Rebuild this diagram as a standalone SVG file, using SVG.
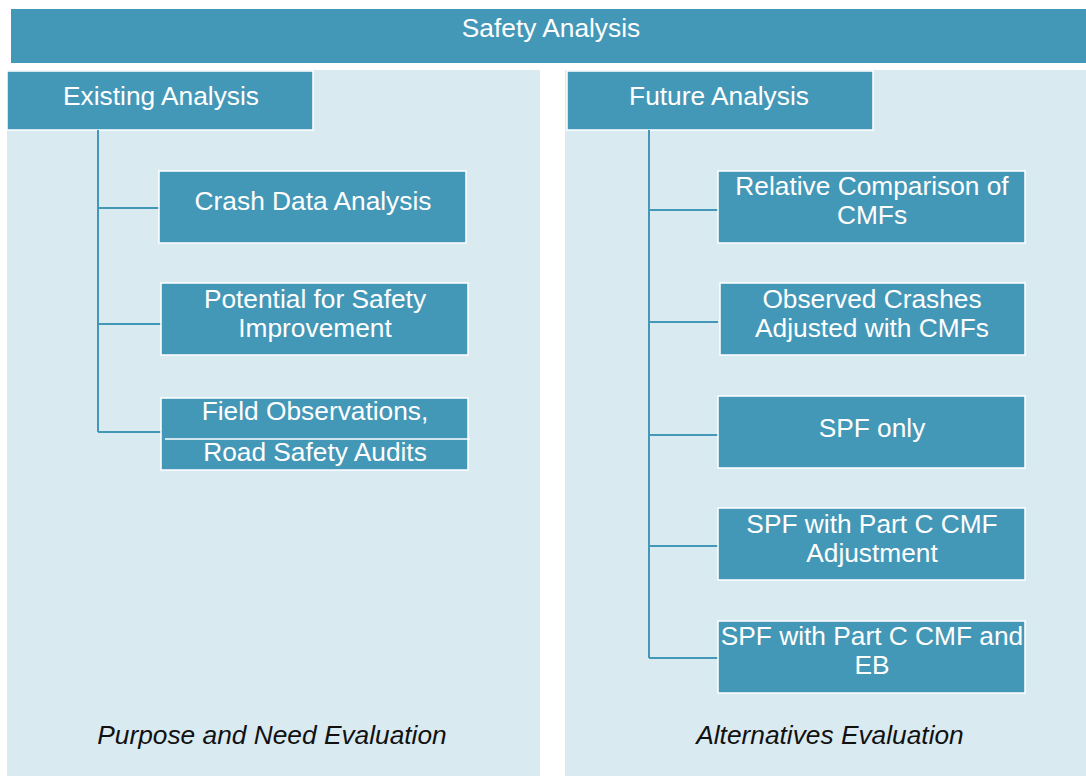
<svg xmlns="http://www.w3.org/2000/svg" width="1086" height="776" viewBox="0 0 1086 776">
<style>
.box{fill:#4498b7;stroke:#ffffff;stroke-width:1.5}
.head{fill:#4498b7}
.panel{fill:#d9eaf1}
.t{font-family:"Liberation Sans",Arial,sans-serif;font-size:26.3px;fill:#ffffff;text-anchor:middle}
.it{font-family:"Liberation Sans",Arial,sans-serif;font-size:26.3px;font-style:italic;fill:#111111;text-anchor:middle}
.c{stroke:#4498b7;stroke-width:2;fill:none}
</style>
<rect x="0" y="0" width="1086" height="776" fill="#ffffff"/>
<rect class="panel" x="7" y="70" width="533" height="706"/>
<rect class="panel" x="565" y="70" width="521" height="706"/>
<g id="safety-analysis">
<rect class="head" x="11" y="9" width="1075" height="54"/>
<text class="t" x="551" y="37">Safety Analysis</text>
</g>
<g id="existing-analysis">
<rect class="box" x="7" y="71" width="306" height="59"/>
<text class="t" x="161" y="105">Existing Analysis</text>
</g>
<g id="future-analysis">
<rect class="box" x="567" y="71" width="306" height="59"/>
<text class="t" x="719" y="105">Future Analysis</text>
</g>
<g id="connectors">
<path class="c" d="M98,130 V432 M98,208 H160 M98,324 H161 M98,432 H161"/>
<path class="c" d="M649,130 V658 M649,210 H718 M649,322 H718 M649,435 H718 M649,546 H718 M649,658 H718"/>
</g>
<g id="crash-data">
<rect class="box" x="159" y="171" width="307" height="72"/>
<text class="t" x="313" y="210">Crash Data Analysis</text>
</g>
<g id="potential">
<rect class="box" x="161" y="283" width="307" height="72"/>
<text class="t" x="315" y="308">Potential for Safety</text>
<text class="t" x="315" y="337">Improvement</text>
</g>
<g id="field-obs">
<rect class="box" x="161" y="398" width="307" height="72"/>
<line x1="165" y1="439" x2="470" y2="439" stroke="#ffffff" stroke-width="1.5"/>
<text class="t" x="315" y="420">Field Observations,</text>
<text class="t" x="315" y="461">Road Safety Audits</text>
</g>
<g id="relative-comparison">
<rect class="box" x="718" y="171" width="307" height="72"/>
<text class="t" x="872" y="195">Relative Comparison of</text>
<text class="t" x="872" y="224">CMFs</text>
</g>
<g id="observed-crashes">
<rect class="box" x="720" y="283" width="305" height="72"/>
<text class="t" x="872" y="308">Observed Crashes</text>
<text class="t" x="872" y="337">Adjusted with CMFs</text>
</g>
<g id="spf-only">
<rect class="box" x="718" y="396" width="307" height="72"/>
<text class="t" x="872" y="437">SPF only</text>
</g>
<g id="spf-part-c">
<rect class="box" x="718" y="508" width="307" height="72"/>
<text class="t" x="872" y="533">SPF with Part C CMF</text>
<text class="t" x="872" y="562">Adjustment</text>
</g>
<g id="spf-part-c-eb">
<rect class="box" x="718" y="621" width="307" height="72"/>
<text class="t" x="872" y="645">SPF with Part C CMF and</text>
<text class="t" x="872" y="674">EB</text>
</g>
<g id="labels">
<text class="it" x="272" y="744">Purpose and Need Evaluation</text>
<text class="it" x="830" y="744">Alternatives Evaluation</text>
</g>
</svg>
